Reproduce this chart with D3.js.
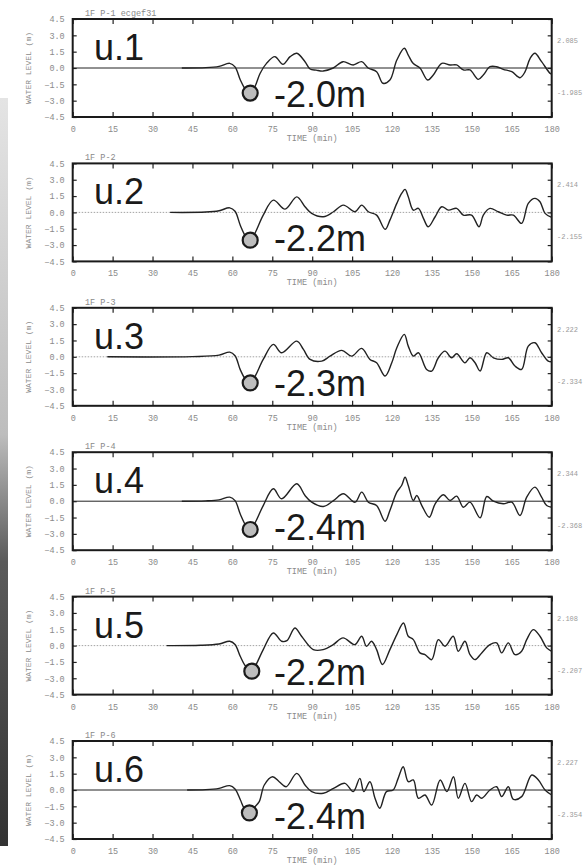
<!DOCTYPE html>
<meta charset="utf-8">
<script src="https://d3js.org/d3.v7.min.js"></script>
<style>
  body { margin: 0; background: #fff; }
</style>
<div id="my_dataviz"></div>
<script>
// water level records, [time (min), level (m)]
const gauge1 = [[41,0],[50,0.03],[55,0.15],[59,0.43],[61,0.1],[63,-1.1],[65,-2.0],[66.7,-2.3],[68.5,-1.7],[70.4,-0.5],[72.9,0.45],[76,1.04],[79,0.34],[81.7,1.04],[84.2,1.35],[87.3,0.58],[89.2,-0.09],[91.5,-0.2],[94.1,-0.28],[97.9,0],[101.6,0.58],[105.4,0.28],[108.6,0.58],[111,0],[114.2,-0.34],[116.6,-1.4],[119.2,-1.1],[121.8,0.73],[124.6,1.81],[126.1,1.19],[127.9,0.43],[130.5,0],[133.4,-1.1],[135.5,-0.64],[138.7,0.43],[141.8,0.28],[144.3,0.28],[146.8,-0.18],[149.3,-0.18],[152.4,-1.04],[154.3,-0.64],[156.8,0.12],[159.3,0.12],[161.8,-0.12],[165,-0.34],[168.1,-0.89],[170,-0.34],[171.9,0.89],[173.7,1.35],[176.2,0.58],[179.4,-0.49],[180,-0.55]];
const gauge2 = [[36.6,0],[50,0.03],[55,0.15],[59,0.42],[61,0.1],[63,-1.2],[65,-2.2],[66.7,-2.55],[68.5,-1.9],[71.6,-0.25],[75.4,1.13],[79.8,0.3],[84.2,1.43],[87.3,0.52],[89.8,-0.09],[94.2,-0.4],[98,0.06],[101.7,0.67],[106.1,0.06],[108.6,0.67],[111.1,0.06],[114.2,-0.25],[117.4,-1.56],[119.2,-0.71],[121.8,0.83],[123.6,1.74],[124.9,2.11],[126.1,1.43],[128,0.21],[129.9,0.37],[131.8,-0.55],[133.6,-1.32],[136.2,-0.4],[138.7,0.52],[141.2,0.21],[144.3,0.37],[146.8,-0.25],[149.9,-0.25],[152.7,-1.32],[154.3,-0.25],[156.8,0.37],[159.9,0.06],[163.1,-0.25],[165.6,-0.25],[168.7,-1.01],[171.2,0.83],[173.7,1.29],[175.6,0.98],[177.5,-0.09],[180,-0.46]];
const gauge3 = [[13,0],[45,0.02],[55,0.15],[59,0.43],[61,0.1],[63,-1.2],[65,-2.1],[66.7,-2.4],[68.5,-1.8],[71.6,-0.24],[75.4,1.14],[78.5,0.37],[84.2,1.44],[86.7,0.68],[89.2,-0.24],[93.6,-0.4],[96.7,0.06],[101.1,0.59],[104.8,0.06],[108.6,0.77],[111.7,-0.24],[114.2,-0.55],[117.4,-1.77],[119.9,-0.55],[121.8,0.83],[124.6,2.06],[126.1,0.98],[128,0.06],[129.9,0.37],[133,-1.16],[134.9,-1.31],[137.4,-0.09],[139.9,0.52],[142.4,-0.09],[144.3,0.28],[147.4,-0.55],[149.3,-0.09],[151.2,-0.55],[153.1,-1.31],[155.6,0.37],[158.1,-0.09],[161.2,-0.24],[163.7,-0.09],[166.2,-0.85],[168.7,-1.16],[171.2,0.98],[173.7,1.29],[176.2,0.37],[178.7,-0.4],[180,-0.46]];
const gauge4 = [[41,0],[50,0.03],[55,0.12],[59,0.37],[61,0.05],[63,-1.2],[65,-2.2],[66.7,-2.6],[68.5,-2.0],[71.6,-0.4],[75.4,1.14],[78.5,0.22],[84.2,1.6],[87.3,0.52],[89.8,-0.09],[94.2,-0.49],[98,0.06],[101.7,0.68],[106.1,-0.09],[108.6,0.83],[111.1,-0.09],[114.2,-0.4],[117.4,-1.84],[119.2,-0.85],[121.8,0.83],[123.6,1.44],[124.9,2.2],[126.1,1.44],[128,0.06],[129.3,0.52],[131.2,-0.4],[134,-1.47],[136.2,-0.24],[139.3,0.59],[141.8,0.06],[144.3,0.46],[146.8,-0.55],[149.3,-0.09],[153.1,-1.53],[155.6,0.43],[158.1,0],[161.8,-0.24],[165,-0.09],[168.1,-1.31],[170.6,0.37],[173.7,1.29],[176.2,0.37],[178.1,-0.4],[180,-0.55]];
const gauge5 = [[35.3,0],[48,0.03],[55,0.15],[59,0.4],[61,0.1],[63,-1.0],[65,-1.9],[67.3,-2.35],[69,-1.7],[71.6,-0.37],[75.4,1.16],[78.5,0.4],[80.5,0.45],[83.5,1.62],[86,0.86],[90.4,-0.37],[94.1,-0.37],[97.9,0.09],[101.6,0.71],[106,0.09],[108.6,0.86],[110.4,-0.06],[112.3,0.4],[114.2,-0.37],[116.4,-1.74],[119.2,-0.37],[121.8,1.01],[124.3,2.08],[126.1,0.86],[128,0.55],[130.5,-0.67],[132.4,-0.83],[134.9,-1.29],[137.4,0.55],[139.9,-0.06],[143,0.86],[144.9,-0.52],[147.4,0.4],[149.3,-0.83],[151.2,-1.29],[153.7,-0.67],[156.8,0.09],[159.3,0.25],[161.2,-0.67],[163.7,0.25],[166.2,-0.83],[168.7,-0.52],[170.6,0.55],[173.1,1.47],[175.6,0.86],[178.1,-0.21],[180,-0.52]];
const gauge6 = [[43,0],[50,0.03],[55,0.15],[59,0.4],[61,0.1],[63,-0.9],[64.5,-1.7],[66.4,-2.1],[68.2,-1.6],[70.1,-1.07],[72,0.46],[75.1,1.22],[77.6,0.76],[80.2,0.3],[84.2,1.53],[87.3,0.46],[89.8,-0.15],[94.2,-0.3],[98,0.15],[102.3,0.61],[105.4,-0.15],[107.9,1.07],[109.4,-0.15],[111.7,0.76],[113.6,-0.76],[115.4,-1.68],[117.9,-0.15],[120.4,0],[122.3,1.07],[124.2,2.14],[126.1,0.76],[128,0.92],[129.9,-0.76],[132.4,-0.46],[134.9,-1.38],[138.1,0.92],[140.6,-0.15],[143.1,1.22],[144.9,-0.76],[147.4,0.61],[149.9,-1.07],[151.8,-0.46],[153.7,-0.76],[156.8,0],[159.3,0.3],[161.2,-0.61],[163.7,0.3],[165.6,-0.86],[168.7,-0.61],[172.5,1.38],[175,0.92],[177.5,0],[180,-0.46]];

const series = [gauge1, gauge2, gauge3, gauge4, gauge5, gauge6];
const unitNames = ["u.1", "u.2", "u.3", "u.4", "u.5", "u.6"];
const maxDrop = ["-2.0m", "-2.2m", "-2.3m", "-2.4m", "-2.2m", "-2.4m"];
const titles = ["1F P-1 ecgef31", "1F P-2", "1F P-3", "1F P-4", "1F P-5", "1F P-6"];
const rightTop = ["2.085", "2.414", "2.222", "2.344", "2.108", "2.227"];
const rightBottom = ["-1.985", "-2.155", "-2.334", "-2.368", "-2.207", "-2.354"];
const xTicks = [0, 15, 30, 45, 60, 75, 90, 105, 120, 135, 150, 165, 180];
const yTicks = [-4.5, -3.0, -1.5, 0.0, 1.5, 3.0, 4.5];

// zero line drawn solid on some sheets, dotted on others
const solidZero = [true, false, false, true, false, true];

var W = 588, H = 868;
var left = 72.7, right = 551.7, panelH = 98, firstTop = 19, step = 144.4;

var svg = d3.select("#my_dataviz")
  .append("svg")
    .attr("width", W)
    .attr("height", H)
    .style("font-family", "'Liberation Mono', monospace");

// scanned page edge on the left
var grad = svg.append("defs").append("linearGradient")
    .attr("id", "edge").attr("x1", 0).attr("y1", 0).attr("x2", 0).attr("y2", 1);
grad.append("stop").attr("offset", "0").attr("stop-color", "#e4e4e4");
grad.append("stop").attr("offset", "0.45").attr("stop-color", "#bdbdbd");
grad.append("stop").attr("offset", "0.62").attr("stop-color", "#5a5a5a");
grad.append("stop").attr("offset", "1").attr("stop-color", "#333");
svg.append("rect")
  .attr("x", 0).attr("y", 98).attr("width", 8).attr("height", 748)
  .attr("fill", "url(#edge)");

var x = d3.scaleLinear().domain([0, 180]).range([left, right]);

series.forEach(function (data, i) {
  var top = firstTop + step * i;
  var y = d3.scaleLinear().domain([-4.5, 4.5]).range([top + panelH, top]);
  var g = svg.append("g");

  // zero line
  g.append("line")
    .attr("x1", left).attr("x2", right)
    .attr("y1", y(0)).attr("y2", y(0))
    .attr("stroke", solidZero[i] ? "#222" : "#999")
    .attr("stroke-width", solidZero[i] ? 1 : 0.9)
    .attr("stroke-dasharray", solidZero[i] ? null : "1.5,1.5");

  // axes with inward ticks
  var tickStyle = function (sel) {
    sel.select(".domain").remove();
    sel.selectAll("line").attr("stroke", "#222").attr("stroke-width", 1.2);
    sel.selectAll("text").attr("fill", "#8a8a8a")
      .style("font-family", "'Liberation Mono', monospace").style("font-size", "8.5px");
  };
  g.append("g")
    .attr("transform", "translate(0," + (top + panelH) + ")")
    .call(d3.axisBottom(x).tickValues(xTicks).tickSize(-5).tickPadding(9).tickFormat(d3.format("d")))
    .call(tickStyle);
  g.append("g")
    .attr("transform", "translate(0," + top + ")")
    .call(d3.axisTop(x).tickValues(xTicks).tickSize(-5).tickFormat(""))
    .call(tickStyle);
  g.append("g")
    .attr("transform", "translate(" + left + ",0)")
    .call(d3.axisLeft(y).tickValues(yTicks).tickSize(-4).tickPadding(8).tickFormat(d3.format(".1f")))
    .call(tickStyle);
  g.append("g")
    .attr("transform", "translate(" + right + ",0)")
    .call(d3.axisRight(y).tickValues(yTicks).tickSize(-4).tickFormat(""))
    .call(tickStyle);

  // frame
  g.append("rect")
    .attr("x", left).attr("y", top)
    .attr("width", right - left).attr("height", panelH)
    .attr("fill", "none").attr("stroke", "#1a1a1a").attr("stroke-width", 2);

  // water level trace
  var line = d3.line()
    .x(function (d) { return x(d[0]); })
    .y(function (d) { return y(d[1]); })
    .curve(d3.curveCatmullRom);
  g.append("path")
    .datum(data)
    .attr("d", line)
    .attr("fill", "none")
    .attr("stroke", "#222")
    .attr("stroke-width", 1.4);

  // marker on the deepest drawdown
  var low = d3.least(data, function (d) { return d[1]; });
  g.append("circle")
    .attr("cx", x(low[0])).attr("cy", y(low[1]))
    .attr("r", 7.5)
    .attr("fill", "#bdbdbd")
    .attr("stroke", "#1a1a1a")
    .attr("stroke-width", 2.2);

  // texts
  g.append("text")
    .attr("x", 85).attr("y", top - 3)
    .attr("fill", "#8a8a8a").style("font-size", "8.5px")
    .text(titles[i]);
  g.append("text")
    .attr("transform", "translate(31," + (top + panelH / 2) + ") rotate(-90)")
    .attr("text-anchor", "middle")
    .attr("fill", "#8a8a8a").style("font-size", "8px")
    .text("WATER LEVEL (m)");
  g.append("text")
    .attr("x", (left + right) / 2).attr("y", top + panelH + 24)
    .attr("text-anchor", "middle")
    .attr("fill", "#8a8a8a").style("font-size", "8.5px")
    .text("TIME (min)");
  g.append("text")
    .attr("x", 557).attr("y", top + 24)
    .attr("fill", "#9a9a9a").style("font-size", "7px")
    .text(rightTop[i]);
  g.append("text")
    .attr("x", 557).attr("y", top + 76)
    .attr("fill", "#9a9a9a").style("font-size", "7px")
    .text(rightBottom[i]);

  g.append("text")
    .attr("x", 94).attr("y", top + 41)
    .attr("fill", "#1a1a1a")
    .style("font-family", "'Liberation Sans', Arial, sans-serif")
    .style("font-size", "36px")
    .text(unitNames[i]);
  g.append("text")
    .attr("x", 274).attr("y", top + 88)
    .attr("fill", "#1a1a1a")
    .style("font-family", "'Liberation Sans', Arial, sans-serif")
    .style("font-size", "36px")
    .text(maxDrop[i]);
});
</script>
